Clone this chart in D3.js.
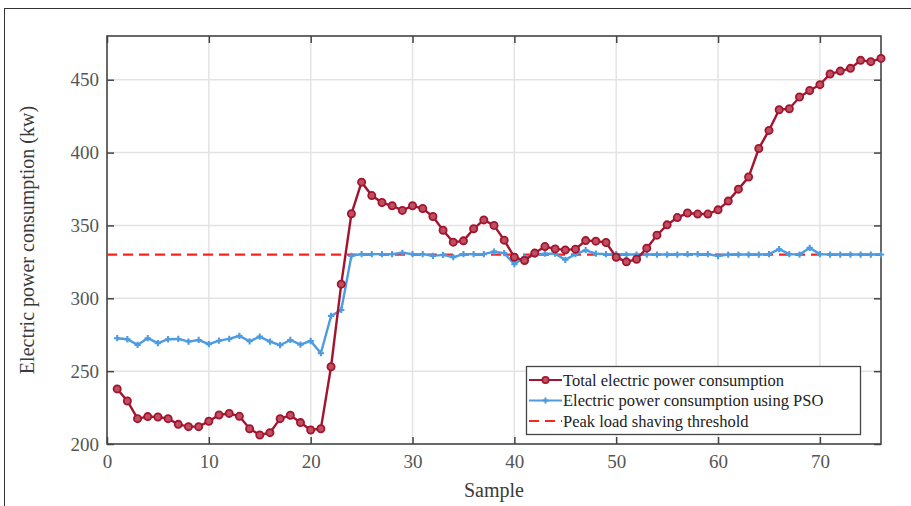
<!DOCTYPE html>
<html>
<head>
<meta charset="utf-8">
<script src="https://cdn.jsdelivr.net/npm/d3@7"></script>
<style>
  body { margin: 0; background: #fff; }
  svg text { font-family: "Liberation Serif", "DejaVu Serif", serif; }
</style>
</head>
<body>
<div id="chart-area"></div>
<script>
// datos
var samples = d3.range(1, 77);
var totalPower = [
    237.8, 229.5, 217.4, 218.8, 218.5, 217.4, 213.5, 211.9, 211.9, 215.6,
    219.9, 221.0, 219.0, 210.5, 206.2, 207.8, 217.4, 219.7, 214.7, 209.6,
    210.5, 253.0, 309.7, 358.0, 379.7, 370.5, 365.7, 363.5, 360.3, 363.5,
    361.6, 356.1, 346.7, 338.5, 339.4, 347.7, 353.8, 350.0, 339.9, 328.2,
    325.9, 331.0, 335.5, 333.9, 333.2, 333.7, 339.6, 339.2, 338.3, 328.2,
    325.0, 326.8, 334.4, 343.3, 350.4, 355.4, 358.5, 357.8, 357.8, 360.7,
    366.7, 374.9, 383.2, 402.8, 415.2, 429.4, 430.1, 438.1, 442.6, 446.6,
    453.9, 455.9, 457.8, 463.3, 462.4, 464.6
];
var psoPower = [
    272.6, 271.9, 268.0, 272.6, 269.2, 271.9, 272.1, 270.3, 271.4, 268.5,
    270.9, 272.1, 274.2, 270.5, 273.7, 270.3, 267.8, 271.4, 268.2, 270.7,
    262.3, 287.9, 292.0, 329.1, 330.3, 330.3, 330.3, 330.3, 331.2, 330.3,
    330.3, 329.1, 329.8, 328.2, 330.3, 330.3, 330.3, 332.0, 331.0, 323.4,
    328.2, 330.0, 330.6, 330.6, 326.4, 330.3, 333.0, 330.6, 330.3, 330.3,
    330.0, 330.0, 330.0, 330.0, 330.0, 330.0, 330.3, 330.3, 330.3, 329.0,
    330.0, 330.0, 330.0, 330.0, 330.3, 333.7, 330.3, 330.0, 334.6, 330.3,
    330.0, 330.0, 330.0, 330.0, 330.0, 330.0
];
var threshold = 330;
var xTicks = [0, 10, 20, 30, 40, 50, 60, 70];
var yTicks = [200, 250, 300, 350, 400, 450];
var legendLabels = [
    "Total electric power consumption",
    "Electric power consumption using PSO",
    "Peak load shaving threshold"
];

var width = 911, height = 506;
var colorTotal = "#a2142f", colorPso = "#4d9be0", colorThr = "#ff2020";

var svg = d3.select("#chart-area").append("svg")
    .attr("width", width)
    .attr("height", height);

// marco exterior
svg.append("rect")
    .attr("x", 4.5).attr("y", 8.5)
    .attr("width", 1000).attr("height", 1000)
    .attr("fill", "none").attr("stroke", "#333").attr("stroke-width", 1);

var x = d3.scaleLinear().domain([0, 76]).range([107, 881]);
var y = d3.scaleLinear().domain([200, 480]).range([444, 36]);

var x0 = x.range()[0], x1 = x.range()[1], y0 = y.range()[0], y1 = y.range()[1];

// rejilla
svg.append("g").selectAll("line").data(xTicks.slice(1))
    .enter().append("line")
        .attr("x1", d => x(d)).attr("x2", d => x(d))
        .attr("y1", y0).attr("y2", y1)
        .attr("stroke", "#e3e3e3").attr("stroke-width", 1.5);
svg.append("g").selectAll("line").data(yTicks.slice(1))
    .enter().append("line")
        .attr("x1", x0).attr("x2", x1)
        .attr("y1", d => y(d)).attr("y2", d => y(d))
        .attr("stroke", "#e3e3e3").attr("stroke-width", 1.5);

// ejes
var tickLen = 7;
var axisBottom = svg.append("g").attr("transform", "translate(0," + y0 + ")")
    .call(d3.axisBottom(x).tickValues(xTicks).tickSizeInner(-tickLen).tickSizeOuter(0).tickPadding(11));
var axisTop = svg.append("g").attr("transform", "translate(0," + y1 + ")")
    .call(d3.axisTop(x).tickValues(xTicks).tickSizeInner(-tickLen).tickSizeOuter(0).tickFormat(""));
var axisLeft = svg.append("g").attr("transform", "translate(" + x0 + ",0)")
    .call(d3.axisLeft(y).tickValues(yTicks).tickSizeInner(-tickLen).tickSizeOuter(0).tickPadding(8));
var axisRight = svg.append("g").attr("transform", "translate(" + x1 + ",0)")
    .call(d3.axisRight(y).tickValues(yTicks).tickSizeInner(-tickLen).tickSizeOuter(0).tickFormat(""));

[axisBottom, axisTop, axisLeft, axisRight].forEach(function(a) {
    a.attr("font-family", null).attr("font-size", null);
    a.select(".domain").remove();
    a.selectAll(".tick line").attr("stroke", "#444").attr("stroke-width", 1.5);
    a.selectAll(".tick text")
        .attr("fill", "#555")
        .style("font-family", "'Liberation Serif', serif")
        .style("font-size", "19px");
});

svg.append("rect")
    .attr("x", x0).attr("y", y1)
    .attr("width", x1 - x0).attr("height", y0 - y1)
    .attr("fill", "none").attr("stroke", "#444").attr("stroke-width", 1.6);

// umbral
svg.append("line")
    .attr("x1", x(0)).attr("x2", x(76))
    .attr("y1", y(threshold)).attr("y2", y(threshold))
    .attr("stroke", colorThr).attr("stroke-width", 2.2)
    .attr("stroke-dasharray", "10,6");

// serie PSO
var linePso = d3.line().x((d, i) => x(samples[i])).y(d => y(d));
svg.append("path").datum(psoPower)
    .attr("d", linePso)
    .attr("fill", "none").attr("stroke", colorPso).attr("stroke-width", 2.4);
svg.append("g").selectAll("path").data(psoPower)
    .enter().append("path")
        .attr("transform", (d, i) => "translate(" + x(samples[i]) + "," + y(d) + ")")
        .attr("d", d3.symbol().type(d3.symbolCross).size(22))
        .attr("fill", colorPso);

// serie total
var lineTotal = d3.line().x((d, i) => x(samples[i])).y(d => y(d));
svg.append("path").datum(totalPower)
    .attr("d", lineTotal)
    .attr("fill", "none").attr("stroke", colorTotal).attr("stroke-width", 2.4);
svg.append("g").selectAll("circle").data(totalPower)
    .enter().append("circle")
        .attr("cx", (d, i) => x(samples[i]))
        .attr("cy", d => y(d))
        .attr("r", 3.6)
        .attr("fill", "#c0505f")
        .attr("stroke", colorTotal).attr("stroke-width", 1.8);

// etiquetas de ejes
svg.append("text")
    .attr("x", (x0 + x1) / 2).attr("y", 497)
    .attr("text-anchor", "middle")
    .attr("fill", "#3a3a3a").style("font-size", "20px")
    .text("Sample");
svg.append("text")
    .attr("transform", "translate(34," + ((y0 + y1) / 2) + ") rotate(-90)")
    .attr("text-anchor", "middle")
    .attr("fill", "#3a3a3a").style("font-size", "20px")
    .text("Electric power consumption (kw)");

// leyenda
var legend = svg.append("g").attr("transform", "translate(526,366)");
legend.append("rect")
    .attr("x", 0.5).attr("y", 0.5).attr("width", 334).attr("height", 68)
    .attr("fill", "#fff").attr("stroke", "#444").attr("stroke-width", 1.3);
var rows = [
    { color: colorTotal, dash: null, marker: "circle" },
    { color: colorPso, dash: null, marker: "cross" },
    { color: colorThr, dash: "10,6", marker: null }
];
rows.forEach(function(r, i) {
    var ly = 14 + i * 20.5;
    legend.append("line")
        .attr("x1", 3).attr("x2", 36).attr("y1", ly).attr("y2", ly)
        .attr("stroke", r.color).attr("stroke-width", 2.2)
        .attr("stroke-dasharray", r.dash);
    if (r.marker === "circle") {
        legend.append("circle").attr("cx", 19.5).attr("cy", ly).attr("r", 3.2)
            .attr("fill", "#c0505f").attr("stroke", r.color).attr("stroke-width", 1.6);
    } else if (r.marker === "cross") {
        legend.append("path").attr("transform", "translate(19.5," + ly + ")")
            .attr("d", d3.symbol().type(d3.symbolCross).size(20)).attr("fill", r.color);
    }
    legend.append("text")
        .attr("x", 37).attr("y", ly + 5.5)
        .attr("fill", "#222").style("font-size", "16.5px")
        .text(legendLabels[i]);
});
</script>
</body>
</html>
